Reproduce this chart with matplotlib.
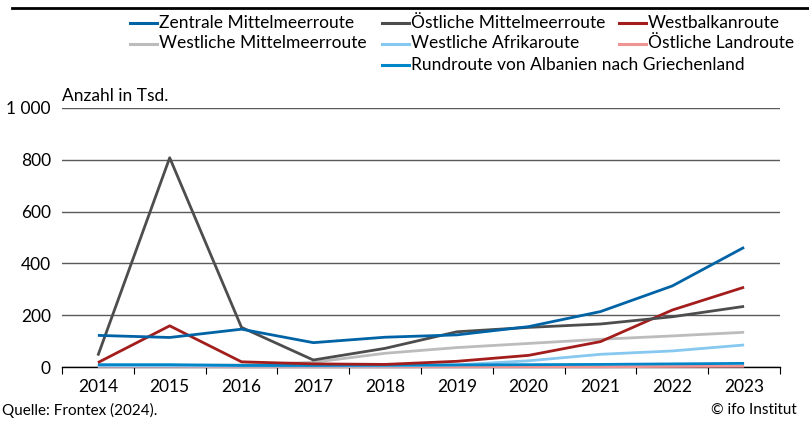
import matplotlib
matplotlib.use("Agg")
import matplotlib.pyplot as plt
from matplotlib.lines import Line2D

plt.rcParams['font.family'] = ['Lato', 'DejaVu Sans']

years = ["2014", "2015", "2016", "2017", "2018", "2019", "2020", "2021", "2022", "2023"]

zentrale = [122, 114, 146, 94, 115, 124, 156, 214, 313, 462]
oestl_mm = [44, 808, 153, 27, 72, 136, 153, 166, 194, 234]
westbalkan = [17, 159, 20, 12, 10, 22, 45, 98, 220, 308]
westl_mm = [6, 6, 8, 18, 53, 75, 91, 107, 120, 134]
westl_afrika = [4, 4, 4, 4, 4, 8, 24, 49, 62, 85]
oestl_land = [2, 2, 1, 1, 1, 1, 1, 1, 2, 3]
rundroute = [9, 9, 6, 6, 7, 8, 9, 10, 12, 14]

labels = ["Zentrale Mittelmeerroute", "Östliche Mittelmeerroute", "Westbalkanroute",
          "Westliche Mittelmeerroute", "Westliche Afrikaroute", "Östliche Landroute",
          "Rundroute von Albanien nach Griechenland"]
series = [zentrale, oestl_mm, westbalkan, westl_mm, westl_afrika, oestl_land, rundroute]
colors = ["#0063a6", "#4d4d4d", "#a31d1d", "#bcbcbc", "#86c8ef", "#f09393", "#0086c8"]

fig = plt.figure(figsize=(8.09, 4.21), dpi=100)
ax = fig.add_axes([62/809, 1-367/421, (780-62)/809, (367-108)/421])

x = list(range(len(years)))
# draw light ones first
order = [5, 3, 4, 6, 2, 1, 0]
for i in order:
    ax.plot(x, series[i], color=colors[i], lw=2.0, solid_capstyle='butt',
            zorder=3 + order.index(i), clip_on=False)

ax.set_xlim(-0.5, 9.5)
ax.set_ylim(0, 1000)
ax.set_yticks([0, 200, 400, 600, 800, 1000])
ax.set_yticklabels(["0", "200", "400", "600", "800", "1 000"])
ax.set_xticks([i - 0.5 for i in range(11)])
ax.set_xticklabels([])
ax.set_xticks(x, minor=True)
ax.set_xticklabels(years, minor=True)
ax.tick_params(axis='x', which='major', length=5, width=0.8, direction='out', color='black')
ax.tick_params(axis='x', which='minor', length=0, pad=9, labelsize=12.5)
ax.tick_params(axis='y', length=0, pad=8, labelsize=12.5)
for s in ['left', 'right', 'top']:
    ax.spines[s].set_visible(False)
ax.spines['bottom'].set_color('black')
ax.spines['bottom'].set_linewidth(1.0)
ax.grid(axis='y', color='#5a5a5a', lw=1.0)
ax.set_axisbelow(True)

fig.text(62/809, 1-96/421, "Anzahl in Tsd.", fontsize=12.5, va='center', ha='left')

# legend, laid out by hand
legend_pos = [(130, 22.7), (382, 22.7), (619, 22.7),
              (130, 43.5), (382, 43.5), (619, 43.5),
              (382, 65)]
for (px, py), lab, c in zip(legend_pos, labels, colors):
    fig.add_artist(Line2D([px/809, (px+27)/809], [1-py/421, 1-py/421], color=c, lw=2.2,
                          transform=fig.transFigure))
    fig.text((px+29)/809, 1-py/421, lab, fontsize=12.5, va='center', ha='left')

# heading rule
fig.add_artist(Line2D([12/809, 1], [1-8/421, 1-8/421], color='black', lw=2.0, transform=fig.transFigure))

fig.text(2/809, 1-410/421, "Quelle: Frontex (2024).", fontsize=11, va='center', ha='left')
fig.text(797/809, 1-410/421, "© ifo Institut", fontsize=11, va='center', ha='right')

fig.savefig("out.png", dpi=100)
